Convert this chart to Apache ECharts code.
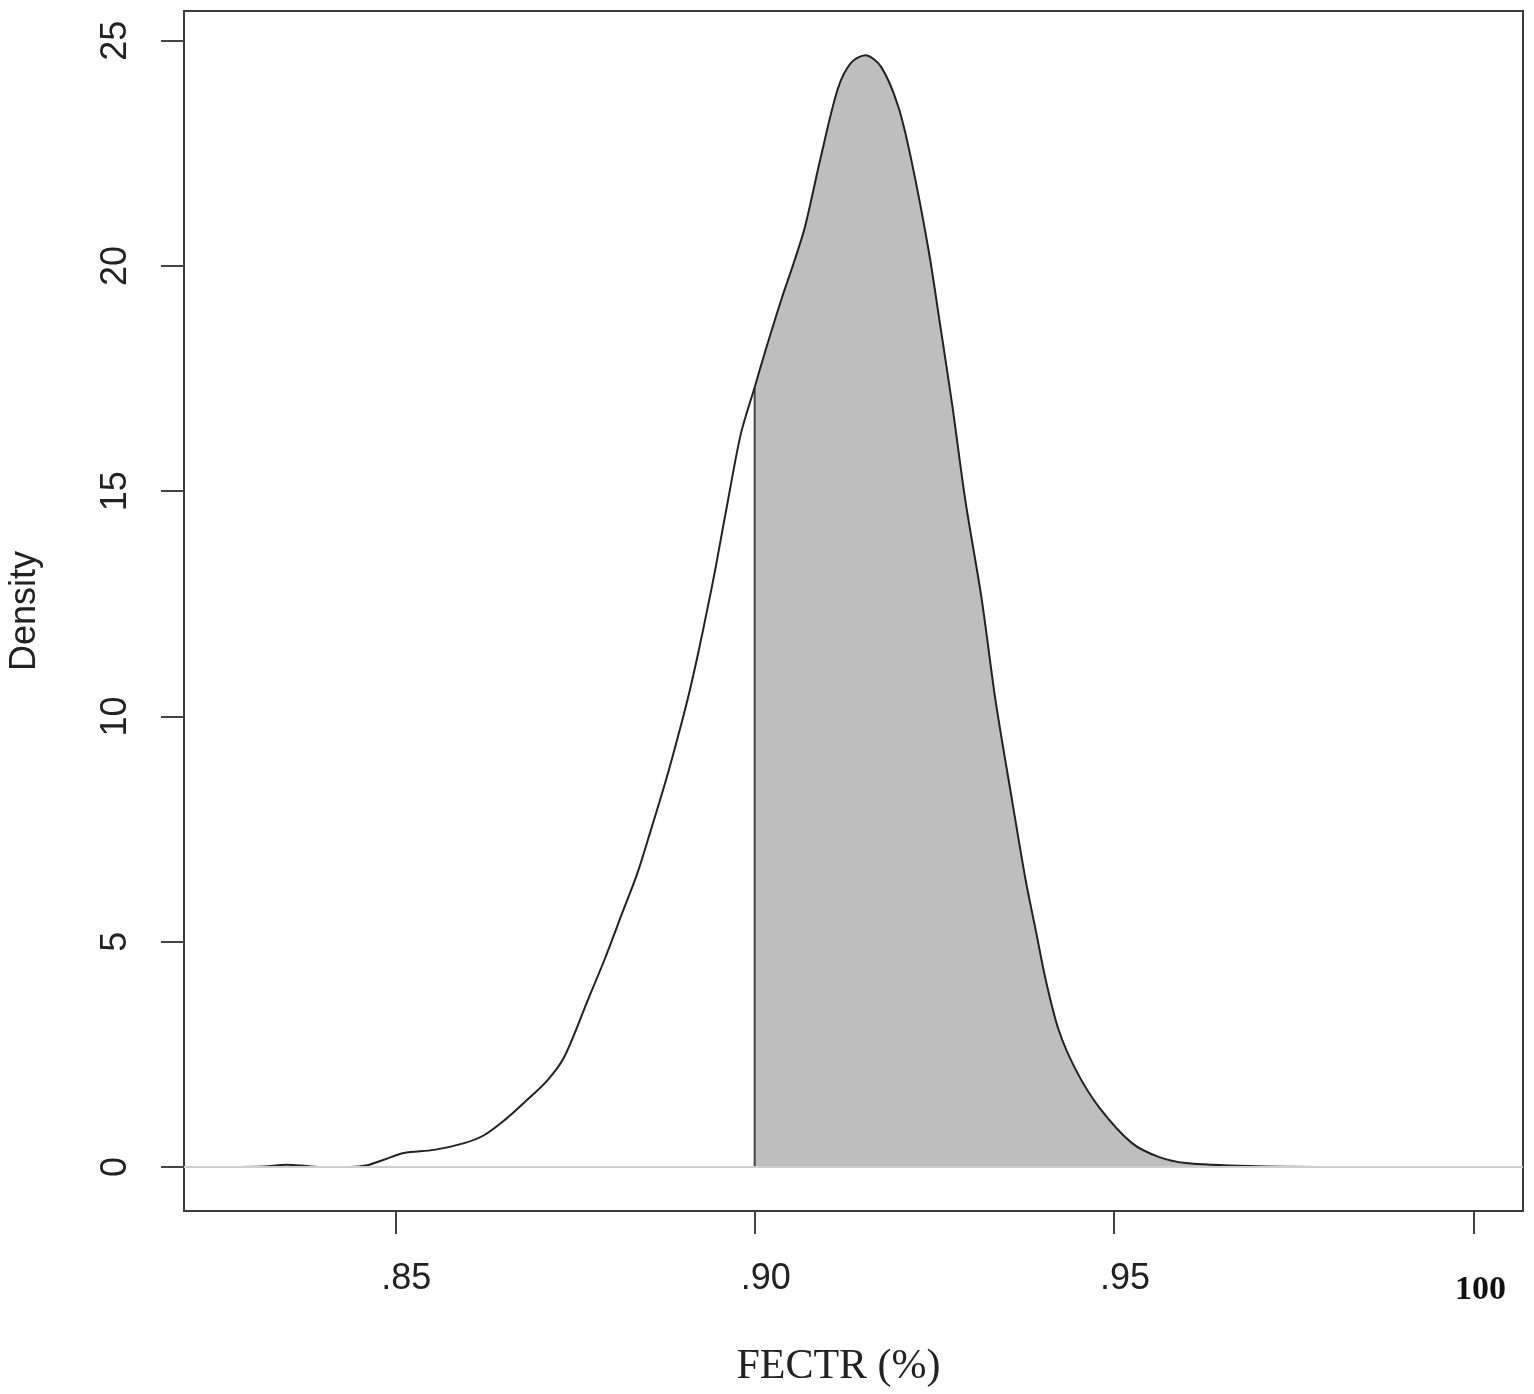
<!DOCTYPE html>
<html>
<head>
<meta charset="utf-8">
<script src="https://cdn.jsdelivr.net/npm/echarts@6/dist/echarts.min.js"></script>
<style>
  html, body { margin: 0; padding: 0; background: #fff; }
  #chart { width: 1534px; height: 1394px; }
</style>
</head>
<body>
<div id="chart"></div>
<script>
// density curve
const xs = [
  0.8269, 0.8317, 0.8349, 0.8377, 0.8400, 0.8437, 0.8461, 0.8484, 0.8512, 0.8554,
  0.8596, 0.8624, 0.8652, 0.8680, 0.8712, 0.8735, 0.8769, 0.8791, 0.8816, 0.8837,
  0.8855, 0.8875, 0.8889, 0.8907, 0.8922, 0.8935, 0.8945, 0.8963, 0.8981, 0.9000,
  0.9014, 0.9037, 0.9055, 0.9070, 0.9092, 0.9116, 0.9134, 0.9154, 0.9176, 0.9200,
  0.9218, 0.9242, 0.9258, 0.9275, 0.9293, 0.9316, 0.9335, 0.9358, 0.9377, 0.9391,
  0.9405, 0.9423, 0.9447, 0.9479, 0.9525, 0.9563, 0.9600, 0.9688, 0.9800, 1.0000
];
const density = [
  0.00, 0.01, 0.05, 0.02, 0.00, 0.00, 0.04, 0.16, 0.31, 0.38,
  0.53, 0.71, 1.04, 1.44, 1.93, 2.44, 3.75, 4.60, 5.65, 6.53,
  7.45, 8.50, 9.30, 10.40, 11.45, 12.45, 13.25, 14.81, 16.29, 17.31,
  18.07, 19.25, 20.10, 20.87, 22.42, 23.95, 24.51, 24.68, 24.42, 23.53,
  22.35, 20.35, 18.70, 16.90, 14.81, 12.59, 10.37, 8.15, 6.37, 5.26,
  4.15, 3.04, 2.15, 1.33, 0.53, 0.22, 0.09, 0.02, 0.00, 0.00
];
const cutoff = 0.90;

const xTicks = [0.85, 0.90, 0.95, 1.00];
const xTickLabels = ['.85', '.90', '.95', '100'];
const yTicks = [0, 5, 10, 15, 20, 25];

const chart = echarts.init(document.getElementById('chart'));

const curve = xs.map((x, i) => [x, density[i]]);
const shaded = curve.filter(p => p[0] >= cutoff);
const cutY = density[xs.indexOf(cutoff)];

const option = {
  animation: false,
  grid: {
    left: 184, right: 11, top: 11, bottom: 183,
    outerBoundsMode: 'none',
    containLabel: false,
    show: true, borderColor: '#3c3c3c', borderWidth: 2
  },
  xAxis: {
    type: 'value',
    min: 0.8206, max: 1.0069,
    splitLine: { show: false },
    axisLine: { show: false, onZero: false },
    axisTick: {
      show: true, length: 23, customValues: xTicks,
      lineStyle: { color: '#444', width: 2 }
    },
    axisLabel: {
      customValues: xTicks,
      margin: 50,
      formatter: v => {
        const i = xTicks.findIndex(t => Math.abs(t - v) < 1e-9);
        return i === 3 ? '{b|' + xTickLabels[i] + '}' : '{a|' + xTickLabels[i] + '}';
      },
      rich: {
        a: { fontFamily: 'Liberation Sans', fontSize: 36, color: '#222', padding: [0, 0, 0, 22] },
        b: { fontFamily: 'Liberation Serif', fontWeight: 'bold', fontSize: 34, color: '#111', padding: [12, 0, 0, 14] }
      }
    },
    name: 'FECTR (%)',
    nameLocation: 'middle',
    nameGap: 135,
    nameTextStyle: { fontFamily: 'Liberation Serif', fontSize: 42, color: '#222', padding: [0, 30, 0, 0] }
  },
  yAxis: {
    type: 'value',
    min: -0.977, max: 25.66,
    splitLine: { show: false },
    axisLine: { show: false, onZero: false },
    axisTick: {
      show: true, length: 23, customValues: yTicks,
      lineStyle: { color: '#444', width: 2 }
    },
    axisLabel: {
      customValues: yTicks,
      rotate: 90,
      margin: 50,
      fontFamily: 'Liberation Sans', fontSize: 36, color: '#222'
    },
    name: 'Density',
    nameLocation: 'middle',
    nameGap: 141,
    nameRotate: 90,
    nameTextStyle: { fontFamily: 'Liberation Sans', fontSize: 36, color: '#222' }
  },
  series: [
    {
      // shaded part of the density beyond the cutoff
      type: 'line',
      data: shaded,
      smooth: 0.3,
      symbol: 'none',
      lineStyle: { width: 0 },
      areaStyle: { color: '#bebebe', opacity: 1 },
      z: 1,
      markLine: {
        silent: true,
        symbol: 'none',
        label: { show: false },
        lineStyle: { color: '#cfcfcf', type: 'solid', width: 2 },
        data: [{ yAxis: 0 }]
      }
    },
    {
      // vertical edge at the cutoff
      type: 'line',
      data: [[cutoff, 0], [cutoff, cutY]],
      symbol: 'none',
      lineStyle: { color: '#444', width: 2 },
      z: 3
    },
    {
      type: 'line',
      data: curve,
      smooth: 0.3,
      symbol: 'none',
      lineStyle: { color: '#222', width: 2 },
      z: 4
    }
  ]
};

chart.setOption(option);
</script>
</body>
</html>
